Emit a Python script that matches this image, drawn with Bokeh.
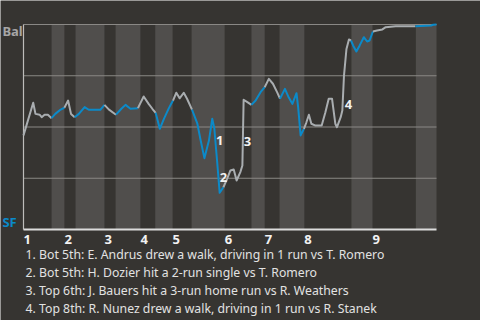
from bokeh.plotting import figure
from bokeh.models import Range1d, Label
from bokeh.embed import file_html
from bokeh.resources import INLINE

# play index (x) and Baltimore win probability in % (y)
plays = [0.0, 2.35, 2.9, 3.9, 4.4, 5.1, 5.9, 6.8, 7.7, 9.0, 9.9, 10.8, 11.5, 12.4, 13.4,
         14.8, 15.8, 18.6, 19.6, 20.7, 22.4, 23.7, 24.7, 25.9, 27.7, 29.1, 30.3, 31.2,
         32.0, 33.0, 34.0, 35.2, 36.2, 37.0, 37.8, 38.8, 39.6, 40.8, 42.1, 42.9, 43.8,
         44.9, 45.7, 46.2, 46.9, 47.5, 48.4, 49.3, 50.1, 50.9, 51.6, 52.5, 53.0, 53.3,
         54.2, 55.2, 56.2, 57.4, 58.4, 59.4, 60.4, 61.4, 62.1, 63.3, 64.1, 65.1, 66.1,
         66.5, 67.1, 67.9, 68.5, 69.1, 69.7, 70.7, 72.2, 73.1, 73.9, 74.7, 75.5, 75.9,
         76.8, 77.2, 77.6, 78.2, 78.8, 79.3, 79.8, 80.6, 81.4, 82.4, 83.2, 83.8, 84.6,
         85.6, 86.9, 87.7, 90.1, 94.9, 98.7, 99.2, 100.0]
bal_wp = [45.9, 61.8, 56.4, 56.0, 54.8, 56.0, 56.0, 54.3, 56.4, 58.5, 59.4, 62.9, 56.4,
          54.8, 56.4, 59.7, 58.4, 58.4, 60.8, 58.5, 56.0, 58.9, 60.8, 58.9, 59.2, 64.9,
          61.3, 58.9, 56.9, 49.1, 54.0, 59.2, 62.9, 66.7, 64.0, 66.7, 63.8, 58.5, 51.6,
          43.4, 34.8, 43.4, 54.0, 49.4, 32.8, 17.9, 20.6, 24.7, 28.8, 29.3, 23.9, 28.0,
          31.2, 63.3, 62.1, 60.8, 62.9, 67.0, 69.4, 73.5, 71.1, 67.0, 63.8, 68.6, 64.9,
          61.3, 66.5, 59.7, 45.9, 49.1, 52.3, 56.0, 51.6, 50.7, 50.7, 57.2, 63.8, 63.8,
          51.6, 49.9, 54.8, 58.0, 75.1, 88.1, 92.7, 92.2, 89.8, 86.8, 89.8, 93.8, 91.7,
          92.2, 96.6, 97.1, 97.6, 98.7, 99.2, 99.2, 99.5, 99.9, 100.0]

# start of each half inning (top 1st, bot 1st, top 2nd, ...)
half_starts = [0.0, 6.8, 9.9, 12.6, 19.6, 22.3, 28.3, 31.9, 36.1, 40.7, 48.7, 55.2,
               58.4, 62.0, 68.0, 79.4, 84.5, 95.0]
game_end = 100.0
inning_labels = ["1", "2", "3", "4", "5", "6", "7", "8", "9"]
grid_levels = [25, 50, 75, 100]

# key events: number, play index, win prob position
event_nums = ["1", "2", "3", "4"]
event_x = [47.5, 48.4, 54.2, 78.7]
event_y = [43.4, 25.4, 42.9, 61.0]

notes = [
    "1. Bot 5th: E. Andrus drew a walk, driving in 1 run vs T. Romero",
    "2. Bot 5th: H. Dozier hit a 2-run single vs T. Romero",
    "3. Top 6th: J. Bauers hit a 3-run home run vs R. Weathers",
    "4. Top 8th: R. Nunez drew a walk, driving in 1 run vs R. Stanek",
]

BG = "#363431"
BAND = "#504e4c"
GRID = "#8a8885"
GREY = "#a9adb0"
BLUE = "#0b8ac9"
FONT = "Noto Sans"

# the frame covers the whole canvas; the chart area is 0..100 x 0..100
XPX = 4.13   # px per play unit
YPX = 2.05   # px per % unit
p = figure(width=480, height=320,
           x_range=Range1d(-23 / XPX, 457 / XPX),
           y_range=Range1d(-91 / YPX, 229 / YPX),
           min_border=0, min_border_left=0, min_border_right=0,
           min_border_top=0, min_border_bottom=0,
           toolbar_location=None, output_backend="svg",
           background_fill_color=BG, border_fill_color=BG)
p.xaxis.visible = False
p.yaxis.visible = False
p.xgrid.visible = False
p.ygrid.visible = False
p.outline_line_color = None

# bottom-half bands
bounds = half_starts + [game_end]
lefts = [bounds[i] for i in range(1, len(bounds) - 1, 2)]
rights = [bounds[i + 1] for i in range(1, len(bounds) - 1, 2)]
p.quad(left=lefts, right=rights, bottom=0, top=100, fill_color=BAND, line_color=None)

# gridlines and axis lines
p.segment(x0=0, x1=game_end, y0=grid_levels, y1=grid_levels, line_color=GRID, line_width=1.2)
p.segment(x0=[0], x1=[0], y0=[0], y1=[100], line_color="#bdbcba", line_width=1.2)
p.segment(x0=[0], x1=[game_end], y0=[0], y1=[0], line_color="#dcdcdc", line_width=2)

# line segments coloured by batting team (half inning)
def half_index(xm):
    k = 0
    for i, s in enumerate(half_starts):
        if xm >= s:
            k = i
    return k

xs, ys, cols = [], [], []
for i in range(len(plays) - 1):
    col = GREY if half_index((plays[i] + plays[i + 1]) / 2) % 2 == 0 else BLUE
    if cols and cols[-1] == col:
        xs[-1].append(plays[i + 1])
        ys[-1].append(bal_wp[i + 1])
    else:
        xs.append([plays[i], plays[i + 1]])
        ys.append([bal_wp[i], bal_wp[i + 1]])
        cols.append(col)
p.multi_line(xs=xs, ys=ys, line_color=cols, line_width=2, line_join="round")

# event numbers
for t, ex, ey in zip(event_nums, event_x, event_y):
    p.add_layout(Label(x=ex, y=ey, text=t, text_align="center", text_baseline="middle",
                       text_color="#f2f2f2", text_font=FONT, text_font_style="bold",
                       text_font_size="13px"))

# inning labels
for k, lab in enumerate(inning_labels):
    p.add_layout(Label(x=half_starts[2 * k], y=-4.9, text=lab, text_align="left",
                       text_baseline="middle", text_color="#f2f2f2", text_font=FONT,
                       text_font_style="bold", text_font_size="13px"))

# team labels
p.add_layout(Label(x=-5.1, y=96.8, text="Bal", text_align="left", text_baseline="middle",
                   text_color="#a6a6a6", text_font=FONT, text_font_style="bold",
                   text_font_size="13px"))
p.add_layout(Label(x=-5.1, y=3.9, text="SF", text_align="left", text_baseline="middle",
                   text_color=BLUE, text_font=FONT, text_font_style="bold",
                   text_font_size="13px"))

# footnotes
for j, note in enumerate(notes):
    p.add_layout(Label(x=0.5, y=-12.2 - 8.78 * j, text=note, text_align="left",
                       text_baseline="middle", text_color="#e2e2e2", text_font=FONT,
                       text_font_size="12.25px"))

open("out.html", "w").write(file_html(p, INLINE))
